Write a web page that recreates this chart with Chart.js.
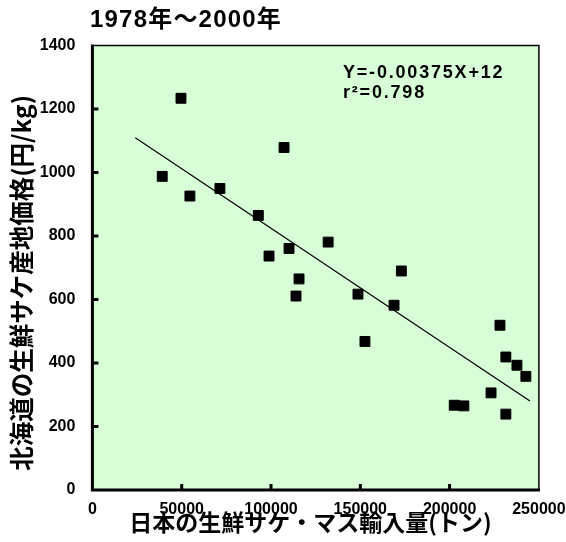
<!DOCTYPE html>
<html>
<head>
<meta charset="utf-8">
<script src="https://cdn.jsdelivr.net/npm/chart.js@4.4.1/dist/chart.umd.min.js"></script>
<style>
  html, body { margin: 0; padding: 0; background: #fff; }
  canvas { display: block; }
</style>
</head>
<body>
<canvas id="salmonChart" width="566" height="542"></canvas>
<script>
// imports of fresh salmon/trout to Japan (tons) vs Hokkaido landing price (yen/kg), 1978-2000
const importTons = [39100, 49600, 54600, 71400, 92900, 98900, 107300, 110100, 114000, 115700, 132000, 148700,
  152600, 168900, 173000, 202600, 208000, 223200, 228200, 231500, 231500, 237700, 242700];
const priceYen = [988, 1234, 926, 950, 865, 737, 1079, 761, 611, 665, 781, 617,
  468, 582, 690, 267, 265, 306, 519, 419, 239, 393, 358];

// regression line end points
const trendX = [24000, 245000];
const trendY = [1110, 280];

const xTicks = [0, 50000, 100000, 150000, 200000, 250000];
const yTicks = [0, 200, 400, 600, 800, 1000, 1200, 1400];

const titleText = '1978年～2000年';
const xTitle = '日本の生鮮サケ・マス輸入量(トン)';
const yTitle = '北海道の生鮮サケ産地価格(円/kg)';
const formulaLines = ['Y=-0.00375X+12', 'r²=0.798'];

const FONT = "'Liberation Sans', 'Noto Sans CJK JP', sans-serif";
const CJK = "'Noto Sans CJK JP', 'Liberation Sans', sans-serif";

const framePlugin = {
  id: 'frame',
  beforeDraw(chart) {
    const { ctx, chartArea: a } = chart;
    ctx.save();
    ctx.fillStyle = '#d8fed8';
    ctx.fillRect(a.left, a.top, a.right - a.left, a.bottom - a.top);
    ctx.restore();
  },
  afterDraw(chart) {
    const { ctx, chartArea: a, scales } = chart;
    ctx.save();
    ctx.strokeStyle = '#000';
    // thin top/right border
    ctx.lineWidth = 1.5;
    ctx.beginPath();
    ctx.moveTo(a.left, a.top);
    ctx.lineTo(a.right, a.top);
    ctx.lineTo(a.right, a.bottom);
    ctx.stroke();
    // thick left/bottom axes
    ctx.lineWidth = 3;
    ctx.beginPath();
    ctx.moveTo(a.left, a.top - 1);
    ctx.lineTo(a.left, a.bottom);
    ctx.lineTo(a.right + 1, a.bottom);
    ctx.stroke();
    // inward ticks
    ctx.beginPath();
    yTicks.slice(1, -1).forEach(v => {
      const y = scales.y.getPixelForValue(v);
      ctx.moveTo(a.left, y);
      ctx.lineTo(a.left + 6, y);
    });
    xTicks.slice(1, -1).forEach(v => {
      const x = scales.x.getPixelForValue(v);
      ctx.moveTo(x, a.bottom);
      ctx.lineTo(x, a.bottom - 6);
    });
    ctx.stroke();

    // chart title
    ctx.fillStyle = '#000';
    ctx.font = 'bold 24px ' + FONT;
    ctx.letterSpacing = '1.2px';
    ctx.textBaseline = 'middle';
    ctx.textAlign = 'left';
    ctx.fillText(titleText, 90, 20);

    // regression formula
    ctx.font = 'bold 18px ' + FONT;
    ctx.letterSpacing = '1.8px';
    ctx.fillText(formulaLines[0], a.left + 250.6, a.top + 27);
    ctx.fillText(formulaLines[1], a.left + 250.6, a.top + 47.4);
    ctx.restore();
  }
};

const ctx = document.getElementById('salmonChart').getContext('2d');

new Chart(ctx, {
  type: 'scatter',
  data: {
    datasets: [
      {
        label: '年次データ',
        data: importTons.map((x, i) => ({ x: x, y: priceYen[i] })),
        pointStyle: 'rect',
        pointRadius: 7,
        pointBorderWidth: 1,
        backgroundColor: '#000',
        borderColor: '#000'
      },
      {
        label: '回帰直線',
        data: trendX.map((x, i) => ({ x: x, y: trendY[i] })),
        showLine: true,
        pointRadius: 0,
        borderColor: '#000',
        borderWidth: 1.2
      }
    ]
  },
  options: {
    responsive: false,
    animation: false,
    layout: { padding: { top: 45.6, right: 27.1, left: 0, bottom: 0 } },
    plugins: {
      legend: { display: false },
      tooltip: { enabled: false }
    },
    scales: {
      x: {
        type: 'linear',
        min: 0,
        max: 250000,
        grid: { display: false, drawTicks: false },
        border: { display: false },
        afterBuildTicks: s => { s.ticks = xTicks.map(v => ({ value: v })); },
        afterFit: s => { s.height = 52; s.paddingLeft = 0; s.paddingRight = 0; },
        ticks: {
          color: '#000',
          padding: 10,
          maxRotation: 0,
          autoSkip: false,
          font: { family: FONT, size: 16, weight: 'bold' },
          callback: v => String(v)
        },
        title: {
          display: true,
          text: xTitle + '  ',
          color: '#000',
          font: { family: CJK, size: 23, weight: 'bold', lineHeight: 1.2 },
          padding: { top: 0, bottom: 5.5 }
        }
      },
      y: {
        type: 'linear',
        min: 0,
        max: 1400,
        grid: { display: false, drawTicks: false },
        border: { display: false },
        afterBuildTicks: s => { s.ticks = yTicks.map(v => ({ value: v })); },
        afterFit: s => { s.width = 92.4; s.paddingTop = 0; s.paddingBottom = 0; },
        ticks: {
          color: '#000',
          padding: 17,
          autoSkip: false,
          font: { family: FONT, size: 16, weight: 'bold' },
          callback: v => String(v)
        },
        title: {
          display: true,
          text: yTitle + '　 ',
          color: '#000',
          font: { family: CJK, size: 24.5, weight: 'bold', lineHeight: 1.2 },
          padding: { top: 7.3, bottom: 0 }
        }
      }
    }
  },
  plugins: [framePlugin]
});
</script>
</body>
</html>
